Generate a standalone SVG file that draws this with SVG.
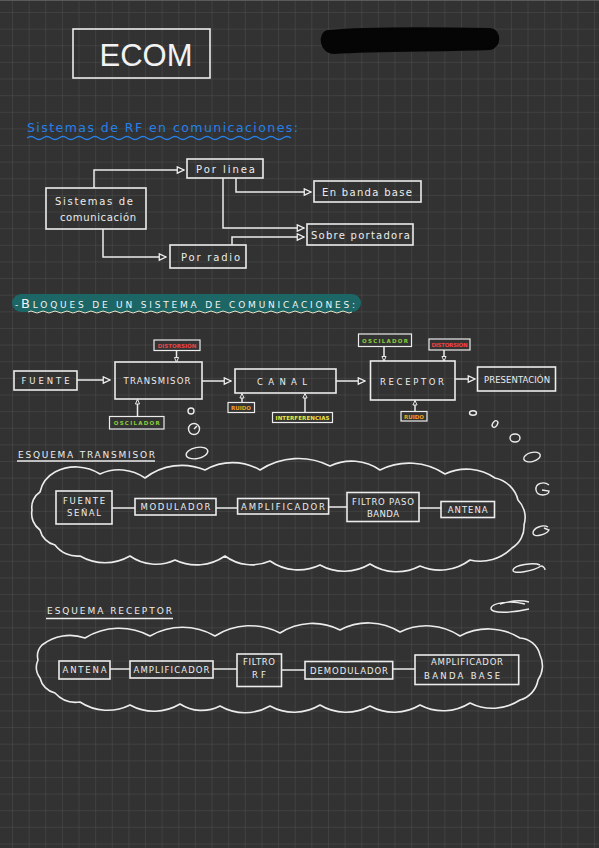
<svg xmlns="http://www.w3.org/2000/svg" width="599" height="848" viewBox="0 0 599 848">
<defs>
<pattern id="grid" x="12" y="12" width="16.63" height="16.63" patternUnits="userSpaceOnUse">
<path d="M0 0 H16.63 M0 0 V16.63" stroke="#4d4d4d" stroke-width="1" fill="none"/>
</pattern>
<marker id="tri" viewBox="0 0 10 10" refX="9" refY="5" markerWidth="9" markerHeight="9" orient="auto" markerUnits="userSpaceOnUse">
<path d="M1.5 1.5 L9 5 L1.5 8.5 Z" fill="#333" stroke="#eee" stroke-width="1.4"/>
</marker>
<marker id="tri2" viewBox="0 0 10 10" refX="9" refY="5" markerWidth="6" markerHeight="6" orient="auto" markerUnits="userSpaceOnUse">
<path d="M1.5 1.5 L9 5 L1.5 8.5 Z" fill="#333" stroke="#eee" stroke-width="1.6"/>
</marker>
</defs>
<style>
.box{fill:none;stroke:#ececec;stroke-width:1.6}
.lbl{fill:#333;stroke:#ececec;stroke-width:1.2}
.t{font-family:"DejaVu Sans",sans-serif;fill:#ececec;font-size:10px}
.c{font-family:"DejaVu Sans",sans-serif;fill:#ececec;font-size:8.5px;text-anchor:middle}
.s{font-family:"DejaVu Sans",sans-serif;font-size:5.5px;font-weight:bold;text-anchor:middle}
.ln{fill:none;stroke:#ececec;stroke-width:1.5}
.cloud{fill:none;stroke:#ececec;stroke-width:1.6;stroke-linejoin:round}
.bub{fill:none;stroke:#ececec;stroke-width:1.4}
</style>
<rect width="599" height="848" fill="#323232"/>
<rect width="599" height="848" fill="url(#grid)"/>
<line x1="0" y1="0.5" x2="599" y2="0.5" stroke="#5a5a5a"/>

<g id="title">
<rect x="73" y="29" width="137" height="49" class="box" stroke-width="2"/>
<text x="146" y="66" font-family="Liberation Sans, Arial, sans-serif" font-size="31" fill="#f2f2f2" text-anchor="middle">ECOM</text>
</g>
<path id="redaction" d="M328 31 C370 27 440 28 490 29 C501 30 501 47 490 49 C440 51 380 50 334 53 C320 53 318 33 328 31 Z" fill="#050505" stroke="#050505" stroke-width="2"/>

<g id="heading1">
<text x="27" y="132" font-family="DejaVu Sans, sans-serif" font-size="12.5" fill="#2580e8" textLength="271" lengthAdjust="spacing">Sistemas de RF en comunicaciones:</text>
<path d="M27 138 q4 -3 8 0 t8 0 t8 0 t8 0 t8 0 t8 0 t8 0 t8 0 t8 0 t8 0 t8 0 t8 0 t8 0 t8 0 t8 0 t8 0 t8 0 t8 0 t8 0 t8 0 t8 0 t8 0 t8 0 t8 0 t8 0 t8 0 t8 0 t8 0 t8 0 t8 0 t8 0 t8 0 t8 0" fill="none" stroke="#2580e8" stroke-width="1.3"/>
</g>

<g id="connectors">
<path d="M94 188 V170 H184" class="ln" marker-end="url(#tri)"/>
<path d="M236 178 V192 H311" class="ln" marker-end="url(#tri)"/>
<path d="M223 178 V228 H304" class="ln" marker-end="url(#tri)"/>
<path d="M232 245 V237 H304" class="ln" marker-end="url(#tri)"/>
<path d="M103 229 V257 H166" class="ln" marker-end="url(#tri)"/>
<path d="M77 380 H110" class="ln" marker-end="url(#tri)"/>
<path d="M202 381 H231" class="ln" marker-end="url(#tri)"/>
<path d="M336 381 H365" class="ln" marker-end="url(#tri)"/>
<path d="M455 379 H475" class="ln" marker-end="url(#tri)"/>
<path d="M176.5 351 V362" class="ln" stroke-width="1.2" marker-end="url(#tri2)"/>
<path d="M137.5 416.5 V399.5" class="ln" stroke-width="1.2" marker-end="url(#tri2)"/>
<path d="M242 402.5 V393.5" class="ln" stroke-width="1.2" marker-end="url(#tri2)"/>
<path d="M305 412.5 V393.5" class="ln" stroke-width="1.2" marker-end="url(#tri2)"/>
<path d="M384 347 V361" class="ln" stroke-width="1.2" marker-end="url(#tri2)"/>
<path d="M444 350 V361" class="ln" stroke-width="1.2" marker-end="url(#tri2)"/>
<path d="M415 411.5 V400.5" class="ln" stroke-width="1.2" marker-end="url(#tri2)"/>
<path d="M112 508 H135 M216 508 H237.6 M328.5 507 H347 M419 508 H441" class="ln"/>
<path d="M110 669 H130 M213 669 H237 M281.5 670 H305 M392.7 669 H415" class="ln"/>
</g>

<g id="n-sistemas">
<rect x="46" y="188" width="100" height="41" class="box"/>
<text x="55" y="205" class="t" textLength="78" lengthAdjust="spacing">Sistemas de</text>
<text x="60" y="221" class="t" textLength="76" lengthAdjust="spacing">comunicación</text>
</g>
<g id="n-porlinea">
<rect x="187" y="159" width="76" height="19" class="box"/>
<text x="196" y="173" class="t" textLength="59" lengthAdjust="spacing">Por linea</text>
</g>
<g id="n-banda">
<rect x="314" y="181" width="107" height="21" class="box"/>
<text x="322" y="196" class="t" textLength="90" lengthAdjust="spacing">En banda base</text>
</g>
<g id="n-portadora">
<rect x="307" y="224" width="106" height="21" class="box"/>
<text x="311" y="239" class="t" textLength="99" lengthAdjust="spacing">Sobre portadora</text>
</g>
<g id="n-porradio">
<rect x="170" y="245" width="76" height="23" class="box"/>
<text x="181" y="261" class="t" textLength="59" lengthAdjust="spacing">Por radio</text>
</g>

<g id="heading2">
<rect x="12" y="294" width="349" height="18" rx="9" fill="#1c6666"/>
<text x="15" y="308" font-family="DejaVu Sans, sans-serif" fill="#f2f2f2" font-size="9" textLength="340" lengthAdjust="spacing">-<tspan font-size="13">B</tspan>LOQUES DE UN SISTEMA DE COMUNICACIONES:</text>
<path d="M28 312 q3 -2 6 0 t6 0 t6 0 t6 0 t6 0 t6 0 t6 0 t6 0 t6 0 t6 0 t6 0 t6 0 t6 0 t6 0 t6 0 t6 0 t6 0 t6 0 t6 0 t6 0 t6 0 t6 0 t6 0 t6 0 t6 0 t6 0 t6 0 t6 0 t6 0 t6 0 t6 0 t6 0 t6 0 t6 0 t6 0 t6 0 t6 0 t6 0 t6 0 t6 0 t6 0 t6 0 t6 0 t6 0 t6 0 t6 0 t6 0 t6 0 t6 0 t6 0 t6 0 t6 0 t6 0 t6 0" fill="none" stroke="#e8e3c8" stroke-width="1"/>
</g>

<g id="n-fuente">
<rect x="14" y="371" width="63" height="19" class="box"/>
<text x="45.5" y="384" class="c" textLength="48" lengthAdjust="spacing">FUENTE</text>
</g>
<g id="n-transmisor">
<rect x="115" y="362" width="87" height="37" class="box"/>
<text x="157" y="384" class="c" textLength="67" lengthAdjust="spacing">TRANSMISOR</text>
</g>
<g id="n-canal">
<rect x="235" y="369" width="101" height="24" class="box"/>
<text x="282" y="385" class="c" textLength="50" lengthAdjust="spacing">CANAL</text>
</g>
<g id="n-receptor">
<rect x="370.5" y="361" width="84.5" height="39" class="box"/>
<text x="412" y="385" class="c" textLength="64" lengthAdjust="spacing">RECEPTOR</text>
</g>
<g id="n-presentacion">
<rect x="477.5" y="367" width="78" height="24" class="box"/>
<text x="517" y="383" class="c" textLength="66" lengthAdjust="spacing">PRESENTACIÓN</text>
</g>

<g id="l-dist-t"><rect x="154" y="340" width="46" height="10.5" class="lbl"/><text x="177" y="347.5" class="s" fill="#ee4444">DISTORSIÓN</text></g>
<g id="l-osc-t"><rect x="109.5" y="416.5" width="54.5" height="12.5" class="lbl"/><text x="136.7" y="425" class="s" fill="#8ccc3c" font-size="6.5" textLength="46" lengthAdjust="spacing">OSCILADOR</text></g>
<g id="l-ruido-c"><rect x="228" y="402.5" width="26.5" height="10" class="lbl"/><text x="241" y="410" class="s" fill="#f0a020">RUIDO</text></g>
<g id="l-interf"><rect x="272.5" y="412.5" width="60" height="10" class="lbl"/><text x="302.5" y="420" class="s" fill="#f0e640" textLength="54" lengthAdjust="spacing">INTERFERENCIAS</text></g>
<g id="l-osc-r"><rect x="358.5" y="334" width="53" height="12.5" class="lbl"/><text x="385" y="342.5" class="s" fill="#8ccc3c" font-size="6.5" textLength="46" lengthAdjust="spacing">OSCILADOR</text></g>
<g id="l-dist-r"><rect x="429" y="339" width="41" height="11" class="lbl"/><text x="449.5" y="346.5" class="s" fill="#ee4444" textLength="36" lengthAdjust="spacing">DISTORSIÓN</text></g>
<g id="l-ruido-r"><rect x="401" y="411.5" width="26" height="9.5" class="lbl"/><text x="414" y="418.5" class="s" fill="#f0a020">RUIDO</text></g>

<g id="bubbles">
<circle cx="191" cy="411" r="3" class="bub"/>
<circle cx="194" cy="429" r="5.5" class="bub"/>
<path d="M194 429 L197 426" class="bub"/>
<ellipse cx="197" cy="453" rx="11" ry="5.5" transform="rotate(-12 197 453)" class="bub"/>
<ellipse cx="473" cy="413" rx="3.5" ry="2.2" class="bub"/>
<ellipse cx="495" cy="424" rx="2.3" ry="3.6" transform="rotate(35 495 424)" class="bub"/>
<ellipse cx="515" cy="438" rx="5" ry="4" class="bub"/>
<ellipse cx="532" cy="457" rx="8.5" ry="4.5" transform="rotate(-15 532 457)" class="bub"/>
<path d="M549 485 C544 481 535 483 536 490 C537 497 549 496 549 491 L542 490" class="bub"/>
<path d="M548 527 C543 524 533 528 533 533 C533 538 546 535 549 530 L544 528" class="bub"/>
<path d="M540 565 C534 562 514 565 513 570 C512 575 534 571 541 566 C543 566 545 568 545 570" class="bub"/>
<path d="M525 604 C510 600 492 603 491 608 C490 614 512 613 529 609 M500 604 C510 601 522 600 529 602" class="bub"/>
</g>

<g id="heading-tx">
<text x="18" y="458" font-family="DejaVu Sans, sans-serif" fill="#ececec" font-size="9" textLength="137" lengthAdjust="spacing">ESQUEMA TRANSMISOR</text>
<line x1="17" y1="461" x2="155" y2="461" stroke="#ececec" stroke-width="1.3"/>
</g>

<g id="cloud-tx">
<path class="cloud" d="M40 492 A30 30 0 0 1 55 472 A45 45 0 0 1 100 474 A45 45 0 0 1 145 478 A60 60 0 0 1 205 470 A55 55 0 0 1 260 470 A70 70 0 0 1 330 466 A50 50 0 0 1 380 470 A65 65 0 0 1 445 474 A50 50 0 0 1 495 478 A30 30 0 0 1 518 500 A25 25 0 0 1 524 525 A25 25 0 0 1 512 548 A45 45 0 0 1 470 560 A50 50 0 0 1 420 566 A50 50 0 0 1 370 564 A50 50 0 0 1 320 565 A50 50 0 0 1 270 561 A45 45 0 0 1 225 556 A50 50 0 0 1 175 560 A45 45 0 0 1 130 556 A50 50 0 0 1 80 556 A28 28 0 0 1 55 545 A20 20 0 0 1 40 530 A20 20 0 0 1 32 510 A18 18 0 0 1 40 492 Z"/>
</g>

<g id="tx-fuente"><rect x="56" y="491" width="56" height="33" class="box"/>
<text x="84" y="504" class="c" font-size="7.5" textLength="42" lengthAdjust="spacing">FUENTE</text>
<text x="84" y="516" class="c" font-size="7.5" textLength="34" lengthAdjust="spacing">SEÑAL</text></g>
<g id="tx-mod"><rect x="135" y="498.5" width="81" height="16.5" class="box"/>
<text x="175.5" y="510" class="c" font-size="7.5" textLength="70" lengthAdjust="spacing">MODULADOR</text></g>
<g id="tx-amp"><rect x="237.6" y="498.5" width="91" height="15.5" class="box"/>
<text x="283" y="509.5" class="c" font-size="7.5" textLength="84" lengthAdjust="spacing">AMPLIFICADOR</text></g>
<g id="tx-filtro"><rect x="347" y="492.5" width="72" height="29" class="box"/>
<text x="383" y="505" class="c" font-size="7" textLength="62" lengthAdjust="spacing">FILTRO PASO</text>
<text x="383" y="517" class="c" font-size="7" textLength="32" lengthAdjust="spacing">BANDA</text></g>
<g id="tx-antena"><rect x="441" y="501.5" width="53.5" height="16" class="box"/>
<text x="467.7" y="512.5" class="c" font-size="7.5" textLength="40" lengthAdjust="spacing">ANTENA</text></g>

<g id="heading-rx">
<text x="47" y="614" font-family="DejaVu Sans, sans-serif" fill="#ececec" font-size="9" textLength="125" lengthAdjust="spacing">ESQUEMA RECEPTOR</text>
<line x1="46" y1="618.5" x2="173" y2="618.5" stroke="#ececec" stroke-width="1.3"/>
</g>

<g id="cloud-rx">
<path class="cloud" d="M42 645 A45 45 0 0 1 85 638 A65 65 0 0 1 150 636 A65 65 0 0 1 215 636 A65 65 0 0 1 280 633 A60 60 0 0 1 340 630 A60 60 0 0 1 400 632 A60 60 0 0 1 460 636 A60 60 0 0 1 520 638 A22 22 0 0 1 540 655 A25 25 0 0 1 538 680 A25 25 0 0 1 520 700 A50 50 0 0 1 470 703 A50 50 0 0 1 420 705 A50 50 0 0 1 370 706 A50 50 0 0 1 320 705 A50 50 0 0 1 270 706 A50 50 0 0 1 220 706 A40 40 0 0 1 180 704 A50 50 0 0 1 130 705 A50 50 0 0 1 80 702 A28 28 0 0 1 55 693 A20 20 0 0 1 40 678 A18 18 0 0 1 38 660 A16 16 0 0 1 42 645 Z"/>
</g>

<g id="rx-antena"><rect x="59" y="661" width="51" height="18" class="box"/>
<text x="84.5" y="673" class="c" font-size="7.5" textLength="44" lengthAdjust="spacing">ANTENA</text></g>
<g id="rx-amp"><rect x="130" y="661" width="83" height="17" class="box"/>
<text x="171.5" y="672.5" class="c" font-size="7.5" textLength="76" lengthAdjust="spacing">AMPLIFICADOR</text></g>
<g id="rx-filtro"><rect x="237" y="654" width="44.5" height="32.5" class="box"/>
<text x="259" y="665" class="c" font-size="7.5" textLength="32" lengthAdjust="spacing">FILTRO</text>
<text x="259" y="678" class="c" font-size="7.5" textLength="14" lengthAdjust="spacing">RF</text></g>
<g id="rx-demod"><rect x="305" y="661.5" width="87.7" height="17.5" class="box"/>
<text x="349" y="673.5" class="c" font-size="7.5" textLength="78" lengthAdjust="spacing">DEMODULADOR</text></g>
<g id="rx-ampbb"><rect x="415" y="655" width="103.7" height="29.5" class="box"/>
<text x="467" y="665" class="c" font-size="6.5" textLength="72" lengthAdjust="spacing">AMPLIFICADOR</text>
<text x="462" y="679" class="c" font-size="7" textLength="76" lengthAdjust="spacing">BANDA BASE</text></g>
</svg>
